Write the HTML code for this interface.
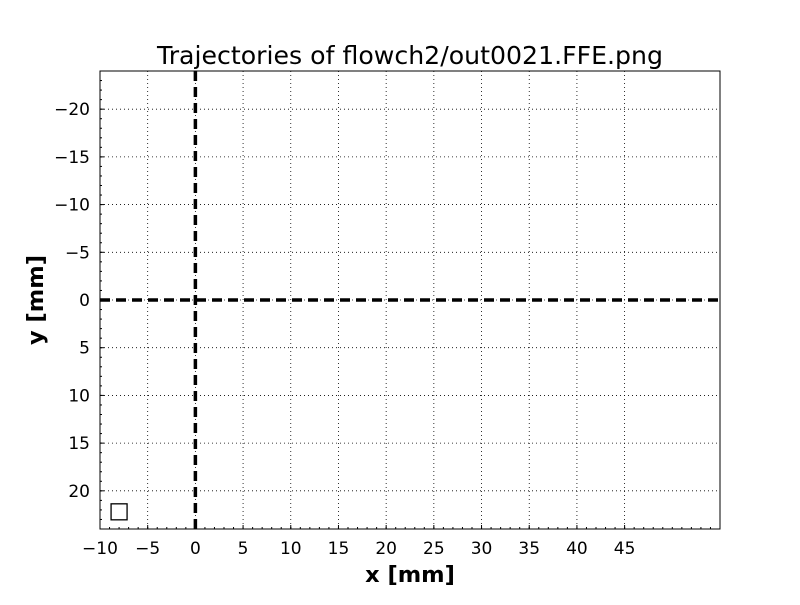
<!DOCTYPE html>
<html><head><meta charset="utf-8"><style>body{margin:0;background:#fff}svg text{font-family:"DejaVu Sans","Liberation Sans",sans-serif}</style></head>
<body>
<svg id="chart" width="800" height="600" xmlns="http://www.w3.org/2000/svg">
<rect width="800" height="600" fill="#fff"/>
<text x="410" y="64" font-size="25" text-anchor="middle" textLength="506" lengthAdjust="spacingAndGlyphs">Trajectories of flowch2/out0021.FFE.png</text>
<g id="grid"></g><g id="ticks"></g><g id="marks"></g>
<rect x="100" y="71" width="620" height="458" fill="none" stroke="#000" stroke-width="1"/>
<text x="410" y="582" font-size="22.5" font-weight="bold" text-anchor="middle">x [mm]</text>
<text transform="translate(43,300) rotate(-90)" font-size="22.5" font-weight="bold" text-anchor="middle">y [mm]</text>
</svg>
<script>
const xTicks=[-10,-5,0,5,10,15,20,25,30,35,40,45];
const yTicks=[-20,-15,-10,-5,0,5,10,15,20];
const xDomain=[-10,55];
const yDomain=[-24,24];
const markerPoint=[-8,22.2];
const NS="http://www.w3.org/2000/svg";
const X=v=>100+(v-xDomain[0])/(xDomain[1]-xDomain[0])*620;
const Y=v=>71+(v-yDomain[0])/(yDomain[1]-yDomain[0])*458;
function mk(p,t,a){const e=document.createElementNS(NS,t);for(const k in a)e.setAttribute(k,a[k]);document.getElementById(p).appendChild(e);return e;}
for(const v of xTicks){
  const g=mk('grid','line',{x1:X(v),x2:X(v),y1:71,y2:529,stroke:'#000','stroke-width':0.8,'stroke-dasharray':'1 3'});
  
  
  const t=mk('ticks','text',{x:X(v),y:554,'font-size':17,'text-anchor':'middle'});
  t.textContent=String(v).replace('-','\u2212');
  
  
  mk('ticks','line',{x1:X(v),x2:X(v),y1:529,y2:525,stroke:'#000'});
}
for(let v=xDomain[0];v<=xDomain[1];v++){mk('ticks','line',{x1:X(v),x2:X(v),y1:529,y2:527,stroke:'#000'});}
for(const v of yTicks){
  const g=mk('grid','line',{x1:100,x2:720,y1:Y(v),y2:Y(v),stroke:'#000','stroke-width':0.8,'stroke-dasharray':'1 3'});
  
  
  const t=mk('ticks','text',{x:90,y:Y(v)+6,'font-size':17,'text-anchor':'end'});
  t.textContent=String(v).replace('-','\u2212');
  
  
  mk('ticks','line',{x1:100,x2:104,y1:Y(v),y2:Y(v),stroke:'#000'});
}
for(let v=yDomain[0];v<=yDomain[1];v++){mk('ticks','line',{x1:100,x2:102,y1:Y(v),y2:Y(v),stroke:'#000'});}
const h=mk('marks','line',{x1:100,x2:720,y1:Y(0),y2:Y(0),stroke:'#000','stroke-width':3.5,'stroke-dasharray':'10 6'});


const vl=mk('marks','line',{x1:X(0),x2:X(0),y1:71,y2:529,stroke:'#000','stroke-width':3.5,'stroke-dasharray':'10 6'});


const m=mk('marks','rect',{x:X(markerPoint[0])-8,y:Y(markerPoint[1])-8,width:16,height:16,fill:'#fff',stroke:'#000','stroke-width':1.3});


</script>
</body></html>
